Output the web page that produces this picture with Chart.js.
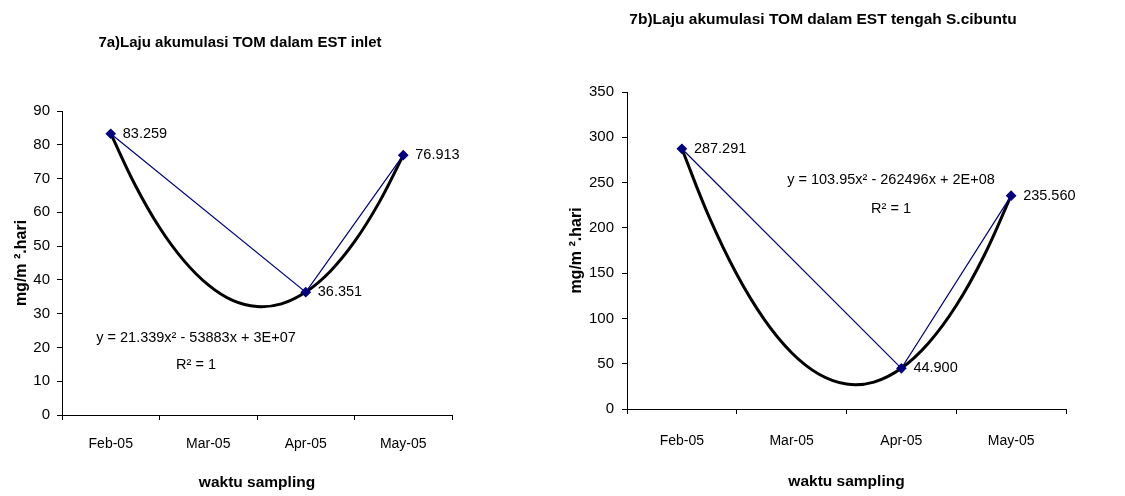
<!DOCTYPE html>
<html>
<head>
<title>Laju akumulasi TOM</title>
<script src="https://cdn.jsdelivr.net/npm/chart.js"></script>
<style>
  body { margin: 0; background: #fff; }
  .box { position: absolute; top: 0; height: 496px; }
  #boxA { left: 0; width: 560px; }
  #boxB { left: 560px; width: 565px; }
</style>
</head>
<body>
<div class="box" id="boxA"><canvas id="chartA" width="560" height="496"></canvas></div>
<div class="box" id="boxB"><canvas id="chartB" width="565" height="496"></canvas></div>
<script>
const months = ['Feb-05', 'Mar-05', 'Apr-05', 'May-05'];
const sampleAt = [0, 2, 3];          // which month each sample belongs to
const inletTOM = [83.259, 36.351, 76.913];
const tengahTOM = [287.291, 44.900, 235.560];

// 2nd order trendline, every quarter month
const trendAt = [0, 0.25, 0.5, 0.75, 1, 1.25, 1.5, 1.75, 2, 2.25, 2.5, 2.75, 3];
const inletTrend = [83.3, 68.1, 55.5, 45.7, 38.5, 33.9, 32.1, 32.9, 36.4, 42.5, 51.3, 62.8, 76.9];
const tengahTrend = [287.3, 211.5, 148.7, 98.9, 62.1, 38.3, 27.5, 29.7, 44.9, 73.1, 114.2, 168.4, 235.6];

const inletAxis = [0, 90, 10];       // min, max, step
const tengahAxis = [0, 350, 50];

const FONT = "'Liberation Sans', Arial, sans-serif";
Chart.defaults.font.family = FONT;
Chart.defaults.color = '#000';

const pairs = (xs, ys) => xs.map((x, i) => ({ x: x, y: ys[i] }));

// title, trend equation and the value next to each sample
const chartText = {
  id: 'chartText',
  afterDraw(chart, args, o) {
    const ctx = chart.ctx;
    ctx.save();
    ctx.fillStyle = '#000';
    ctx.textBaseline = 'middle';
    ctx.textAlign = 'center';
    ctx.font = 'bold ' + o.titleSize + 'px ' + FONT;
    ctx.fillText(o.title, o.titleX, o.titleY);
    ctx.font = '14.5px ' + FONT;
    ctx.fillText(o.eq, o.eqX, o.eqY);
    ctx.fillText('R\u00b2 = 1', o.eqX, o.r2Y);
    ctx.textAlign = 'left';
    const vals = chart.data.datasets[0].data;
    chart.getDatasetMeta(0).data.forEach((pt, i) => {
      ctx.fillText(vals[i].y.toFixed(3), pt.x + 12, pt.y);
    });
    ctx.restore();
  }
};

function makeChart(id, values, trend, axis, lay) {
  return new Chart(document.getElementById(id), {
    type: 'line',
    data: {
      datasets: [
        {
          data: pairs(sampleAt, values),
          borderColor: '#000080',
          borderWidth: 1.2,
          backgroundColor: '#000080',
          pointStyle: 'rectRot',
          pointRadius: 4.5,
          pointBorderColor: '#000080',
          pointBackgroundColor: '#000080'
        },
        {
          data: pairs(trendAt, trend),
          borderColor: '#000',
          borderWidth: 3,
          pointRadius: 0,
          tension: 0.4
        }
      ]
    },
    options: {
      responsive: false,
      animation: false,
      layout: { padding: { top: lay.top, right: lay.right, left: 0, bottom: 0 } },
      plugins: {
        legend: { display: false },
        tooltip: { enabled: false },
        chartText: lay.text
      },
      scales: {
        x: {
          type: 'linear',
          min: -0.5,
          max: 3.5,
          afterFit: s => { s.height = lay.xHeight; },
          border: { color: '#000', width: 1 },
          grid: {
            drawOnChartArea: false,
            tickLength: 5,
            tickColor: c => Number.isInteger(c.tick.value) ? 'rgba(0,0,0,0)' : '#000'
          },
          ticks: {
            stepSize: 0.5,
            autoSkip: false,
            maxRotation: 0,
            padding: lay.xPad,
            font: { size: 14 },
            callback: v => Number.isInteger(v) ? months[v] : ''
          },
          title: {
            display: true,
            text: 'waktu sampling',
            font: { size: 15.5, weight: 'bold' },
            padding: { top: 0, bottom: lay.xTitlePad }
          }
        },
        y: {
          min: axis[0],
          max: axis[1],
          afterFit: s => { s.width = lay.yWidth; },
          border: { color: '#000', width: 1 },
          grid: { drawOnChartArea: false, tickLength: 5, tickColor: '#000' },
          ticks: { stepSize: axis[2], padding: lay.yPad, font: { size: 15 } },
          title: {
            display: true,
            text: 'mg/m \u00b2.hari',
            font: { size: 16, weight: 'bold' },
            padding: { top: lay.yTitlePad, bottom: 0 }
          }
        }
      }
    },
    plugins: [chartText]
  });
}

makeChart('chartA', inletTOM, inletTrend, inletAxis, {
  top: 111, right: 108, xHeight: 81, yWidth: 62,
  xPad: 16, yPad: 7, xTitlePad: 3.7, yTitlePad: 12.4,
  text: {
    title: '7a)Laju akumulasi TOM dalam EST inlet', titleX: 240, titleY: 43, titleSize: 15,
    eq: 'y = 21.339x\u00b2 - 53883x + 3E+07', eqX: 196, eqY: 338, r2Y: 365
  }
});

makeChart('chartB', tengahTOM, tengahTrend, tengahAxis, {
  top: 92, right: 59, xHeight: 87, yWidth: 67,
  xPad: 19, yPad: 8, xTitlePad: 4.7, yTitlePad: 7.4,
  text: {
    title: '7b)Laju akumulasi TOM dalam EST tengah S.cibuntu', titleX: 263, titleY: 20, titleSize: 15.5,
    eq: 'y = 103.95x\u00b2 - 262496x + 2E+08', eqX: 331, eqY: 180, r2Y: 209
  }
});
</script>
</body>
</html>
